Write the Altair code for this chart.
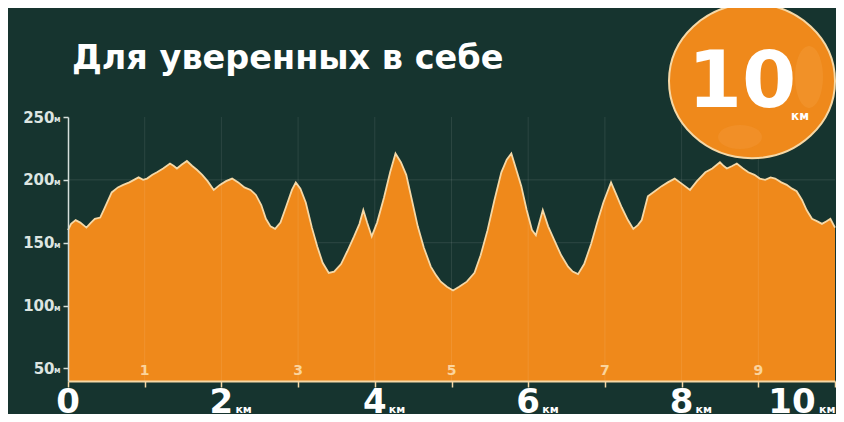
import altair as alt
import pandas as pd

TITLE = "Для уверенных в себе"
BADGE_NUM = "10"
UNIT_KM = "км"
UNIT_M = "м"

KM = [0.00, 0.04, 0.10, 0.16, 0.24, 0.30, 0.35, 0.42, 0.48, 0.57, 0.65, 0.72, 0.80, 0.86, 0.92, 0.98,
      1.03, 1.10, 1.16, 1.24, 1.33, 1.38, 1.42, 1.48, 1.55, 1.62, 1.68, 1.75, 1.82, 1.90, 1.98,
      2.06, 2.14, 2.22, 2.30, 2.38, 2.45, 2.52, 2.58, 2.64, 2.70, 2.77, 2.84, 2.92, 2.97,
      3.03, 3.10, 3.18, 3.25, 3.32, 3.40, 3.47, 3.56, 3.64, 3.73, 3.80, 3.85, 3.90, 3.96,
      4.03, 4.12, 4.20, 4.27, 4.34, 4.41, 4.48, 4.56, 4.64, 4.73, 4.80, 4.86, 4.94,
      5.02, 5.10, 5.20, 5.30, 5.38, 5.47, 5.56, 5.65, 5.72, 5.78, 5.85, 5.91, 5.98,
      6.05, 6.10, 6.19, 6.26, 6.34, 6.43, 6.52, 6.58, 6.65, 6.73, 6.82, 6.90, 6.98,
      7.08, 7.15, 7.22, 7.30, 7.37, 7.43, 7.48, 7.56, 7.65, 7.74, 7.82, 7.91,
      8.00, 8.11, 8.20, 8.31, 8.40, 8.50, 8.55, 8.59, 8.66, 8.72, 8.80, 8.87, 8.95,
      9.02, 9.09, 9.16, 9.22, 9.30, 9.37, 9.44, 9.50, 9.57, 9.63, 9.70, 9.77, 9.83, 9.89, 9.94, 10.00]
ELEV = [160, 165, 168, 166, 162, 166, 169, 170, 178, 190, 194, 196, 198, 200, 202, 200,
        201, 204, 206, 209, 213, 211, 209, 212, 215, 211, 208, 204, 199, 192, 196,
        199, 201, 198, 194, 192, 188, 180, 169, 163, 161, 166, 178, 192, 198,
        193, 182, 162, 147, 134, 126, 127, 133, 143, 155, 165, 176, 166, 155,
        166, 186, 206, 221, 214, 204, 185, 163, 146, 131, 124, 119, 115,
        112, 115, 119, 126, 140, 160, 184, 206, 216, 221, 207, 195, 176,
        160, 156, 176, 163, 152, 140, 131, 127, 125, 133, 149, 166, 182,
        198, 188, 178, 168, 161, 164, 168, 187, 191, 195, 198, 201,
        197, 192, 199, 206, 209, 214, 211, 209, 211, 213, 209, 206, 204,
        201, 200, 202, 201, 198, 196, 193, 191, 184, 176, 169, 167, 165, 167, 169, 162]

Y_TICKS = [50, 100, 150, 200, 250]
Y_GRID = [150, 200]
KM_TICKS = [0, 1, 2, 3, 4, 5, 6, 7, 8, 9, 10]
KM_GRID = [1, 2, 3, 4, 5, 6, 7, 8, 9]
ODD_KM = [1, 3, 5, 7, 9]
EVEN_KM = [0, 2, 4, 6, 8]
SUFFIX_KM = [2, 4, 6, 8]
LAST_KM = [10]

BG = "#16342f"
ORANGE = "#ef891b"
CREAM = "#f6d8a6"
AXISC = "#d5dfdb"
FONT = "DejaVu Sans"

W, H = 767, 264

xs = alt.Scale(domain=[0, 10], nice=False, zero=False)
ys = alt.Scale(domain=[40, 250], nice=False, zero=False)
xax = alt.Axis(values=KM_TICKS, labels=False, ticks=True, tickSize=6, tickColor=CREAM,
               tickWidth=1.5, domainColor=CREAM, domainWidth=2, grid=False, title=None, zindex=1)
yax = alt.Axis(values=Y_TICKS, labelFont=FONT, labelFontWeight="bold", labelFontSize=15,
               labelColor="#dde5e1", labelPadding=9, tickSize=5, tickColor=AXISC, tickWidth=1.5,
               domainColor=AXISC, domainWidth=1.5, grid=False, title=None, zindex=1)

df = pd.DataFrame({"km": KM, "elev": ELEV})

def X(field):
    return alt.X(field, type="quantitative", scale=xs, axis=xax)

def Y(field):
    return alt.Y(field, type="quantitative", scale=ys, axis=yax)

hgrid = alt.Chart(pd.DataFrame({"v": Y_GRID})).mark_rule(
    color="#ffffff", opacity=0.1, strokeWidth=1).encode(y=Y("v"))

area = alt.Chart(df).mark_area(
    color=ORANGE, opacity=1, fillOpacity=1, interpolate="linear",
    line={"color": CREAM, "strokeWidth": 1.8}).encode(
    x=X("km"), y=Y("elev"), y2=alt.datum(40))

vgrid = alt.Chart(pd.DataFrame({"k": KM_GRID})).mark_rule(
    color="#ffffff", opacity=0.09, strokeWidth=1).encode(x=X("k"))

odd_lbl = alt.Chart(pd.DataFrame({"k": ODD_KM})).mark_text(
    font=FONT, fontWeight="bold", fontSize=14, color="#fbd49c", align="center",
    baseline="alphabetic").encode(x=X("k"), y=alt.value(258), text=alt.Text("k:Q", format="d"))

even_lbl = alt.Chart(pd.DataFrame({"k": EVEN_KM})).mark_text(
    font=FONT, fontWeight="bold", fontSize=34, color="#ffffff", align="center",
    baseline="alphabetic").encode(x=X("k"), y=alt.value(296), text=alt.Text("k:Q", format="d"))

km_suffix = alt.Chart(pd.DataFrame({"k": SUFFIX_KM})).mark_text(
    font=FONT, fontWeight="bold", fontSize=11, color="#ffffff", align="left",
    baseline="alphabetic", dx=14).encode(x=X("k"), y=alt.value(296), text=alt.value(UNIT_KM))

last_lbl = alt.Chart(pd.DataFrame({"k": LAST_KM})).mark_text(
    font=FONT, fontWeight="bold", fontSize=34, color="#ffffff", align="center",
    baseline="alphabetic", dx=-43).encode(x=X("k"), y=alt.value(296), text=alt.Text("k:Q", format="d"))

last_suffix = alt.Chart(pd.DataFrame({"k": LAST_KM})).mark_text(
    font=FONT, fontWeight="bold", fontSize=11, color="#ffffff", align="left",
    baseline="alphabetic", dx=-16).encode(x=X("k"), y=alt.value(296), text=alt.value(UNIT_KM))

m_suffix = alt.Chart(pd.DataFrame({"v": Y_TICKS})).mark_text(
    font=FONT, fontWeight="bold", fontSize=8, color="#dde5e1", align="left",
    baseline="alphabetic", dy=5).encode(x=alt.value(-14), y=Y("v"), text=alt.value(UNIT_M))

title = alt.Chart(pd.DataFrame({"t": [TITLE]})).mark_text(
    font=FONT, fontWeight="bold", fontSize=33.5, color="#ffffff", align="left",
    baseline="alphabetic").encode(x=alt.value(4), y=alt.value(-48), text="t:N")

ELLIPSE = "M -1 0 A 1 0.93 0 1 1 1 0 A 1 0.93 0 1 1 -1 0 Z"
FOOT = "M -0.45 0 A 0.45 1 0 1 1 0.45 0 A 0.45 1 0 1 1 -0.45 0 Z"
FOOT2 = "M -1 0 A 1 0.55 0 1 1 1 0 A 1 0.55 0 1 1 -1 0 Z"

one = pd.DataFrame({"b": [1]})
badge = alt.Chart(one).mark_point(
    shape=ELLIPSE, size=166 * 166, filled=True, color=ORANGE, stroke=CREAM,
    strokeWidth=2, opacity=1, fillOpacity=1).encode(x=alt.value(684), y=alt.value(-36))
foot1 = alt.Chart(one).mark_point(
    shape=FOOT, size=62 * 62, filled=True, color="#f6a54a", opacity=0.3).encode(
    x=alt.value(741), y=alt.value(-40))
foot2 = alt.Chart(one).mark_point(
    shape=FOOT2, size=44 * 44, filled=True, color="#f6a54a", opacity=0.25).encode(
    x=alt.value(672), y=alt.value(20))
badge_num = alt.Chart(one).mark_text(
    font=FONT, fontWeight="bold", fontSize=78, color="#ffffff", align="center",
    baseline="alphabetic").encode(x=alt.value(674), y=alt.value(-10), text=alt.value(BADGE_NUM))
badge_unit = alt.Chart(one).mark_text(
    font=FONT, fontWeight="bold", fontSize=12, color="#ffffff", align="left",
    baseline="alphabetic").encode(x=alt.value(723), y=alt.value(3), text=alt.value(UNIT_KM))

chart = alt.layer(
    hgrid, area, vgrid, odd_lbl, even_lbl, km_suffix, last_lbl, last_suffix, m_suffix,
    title, badge, foot1, foot2, badge_num, badge_unit
).properties(
    width=W, height=H,
    autosize=alt.AutoSizeParams(type="none"),
    padding={"left": 60, "top": 109, "right": 1, "bottom": 33},
    background=BG,
).configure_view(stroke=None)

chart.save("out.html", embed_options={"renderer": "svg", "actions": False})
